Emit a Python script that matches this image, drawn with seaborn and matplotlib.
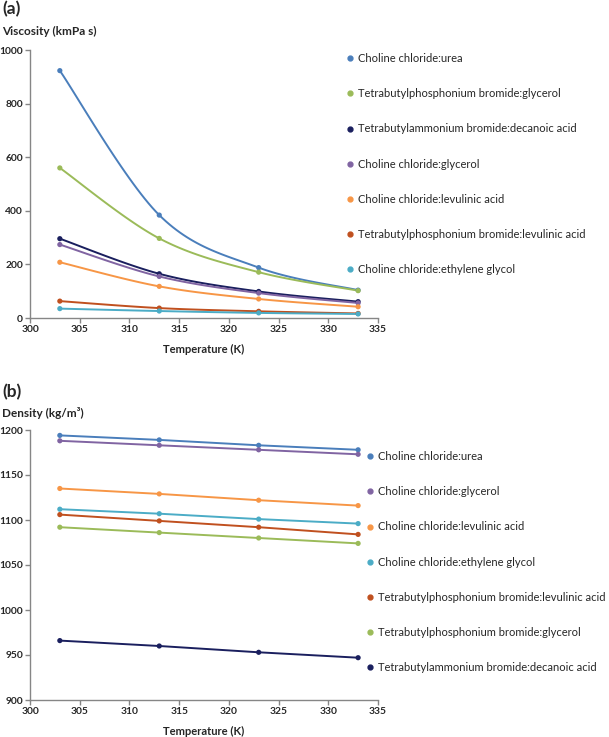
import numpy as np
import pandas as pd
import seaborn as sns
import matplotlib.pyplot as plt
from matplotlib.lines import Line2D

sns.set_style("white")
plt.rcParams["font.family"] = ["Lato", "DejaVu Sans"]

temperature = [303, 313, 323, 333]

# (a) viscosity, kmPa s
visc_chcl_urea = [923, 384, 188, 104]
visc_tbpb_glycerol = [560, 297, 171, 102]
visc_tbab_decanoic = [296, 165, 99, 61]
visc_chcl_glycerol = [274, 155, 93, 56]
visc_chcl_levulinic = [208, 118, 71, 42]
visc_tbpb_levulinic = [63, 37, 25, 17]
visc_chcl_eg = [35, 26, 19, 15]

# (b) density, kg/m3
dens_chcl_urea = [1194, 1189, 1183, 1178]
dens_chcl_glycerol = [1188, 1183, 1178, 1173]
dens_chcl_levulinic = [1135, 1129, 1122, 1116]
dens_chcl_eg = [1112, 1107, 1101, 1096]
dens_tbpb_levulinic = [1106, 1099, 1092, 1084]
dens_tbpb_glycerol = [1092, 1086, 1080, 1074]
dens_tbab_decanoic = [966, 960, 953, 947]

names = {
    "urea": "Choline chloride:urea",
    "tbpb_gly": "Tetrabutylphosphonium bromide:glycerol",
    "tbab_dec": "Tetrabutylammonium bromide:decanoic acid",
    "chcl_gly": "Choline chloride:glycerol",
    "chcl_lev": "Choline chloride:levulinic acid",
    "tbpb_lev": "Tetrabutylphosphonium bromide:levulinic acid",
    "chcl_eg": "Choline chloride:ethylene glycol",
}

colors = {
    names["urea"]: "#4a7ebb",
    names["tbpb_gly"]: "#9bbb59",
    names["tbab_dec"]: "#1a1f5e",
    names["chcl_gly"]: "#8064a2",
    names["chcl_lev"]: "#f79646",
    names["tbpb_lev"]: "#c0501f",
    names["chcl_eg"]: "#4bacc6",
}

visc_series = [
    (names["urea"], visc_chcl_urea),
    (names["tbpb_gly"], visc_tbpb_glycerol),
    (names["tbab_dec"], visc_tbab_decanoic),
    (names["chcl_gly"], visc_chcl_glycerol),
    (names["chcl_lev"], visc_chcl_levulinic),
    (names["tbpb_lev"], visc_tbpb_levulinic),
    (names["chcl_eg"], visc_chcl_eg),
]

dens_series = [
    (names["urea"], dens_chcl_urea),
    (names["chcl_gly"], dens_chcl_glycerol),
    (names["chcl_lev"], dens_chcl_levulinic),
    (names["chcl_eg"], dens_chcl_eg),
    (names["tbpb_lev"], dens_tbpb_levulinic),
    (names["tbpb_gly"], dens_tbpb_glycerol),
    (names["tbab_dec"], dens_tbab_decanoic),
]


def smooth(x, y, n=30):
    # excel style smoothed line (bezier through the points)
    p = np.column_stack([x, y]).astype(float)
    ext = np.vstack([p[0], p, p[-1]])
    t = np.linspace(0, 1, n)[:, None]
    out = []
    for i in range(len(p) - 1):
        p0, p3 = ext[i + 1], ext[i + 2]
        c1 = p0 + (ext[i + 2] - ext[i]) / 6
        c2 = p3 - (ext[i + 3] - ext[i + 1]) / 6
        seg = (1 - t) ** 3 * p0 + 3 * (1 - t) ** 2 * t * c1 + 3 * (1 - t) * t ** 2 * c2 + t ** 3 * p3
        out.append(seg if i == 0 else seg[1:])
    out = np.vstack(out)
    return out[:, 0], out[:, 1]


def frames(series, curve):
    pts, lines = [], []
    for name, vals in series:
        pts.append(pd.DataFrame({"T": temperature, "v": vals, "name": name}))
        if curve:
            sx, sy = smooth(temperature, vals)
        else:
            sx, sy = temperature, vals
        lines.append(pd.DataFrame({"T": sx, "v": sy, "name": name}))
    return pd.concat(pts), pd.concat(lines)


def style_axes(ax, ylim, yticks):
    ax.set_xlim(300, 335)
    ax.set_ylim(*ylim)
    ax.set_xticks(range(300, 336, 5))
    ax.set_yticks(yticks)
    for s in ["top", "right"]:
        ax.spines[s].set_visible(False)
    for s in ["left", "bottom"]:
        ax.spines[s].set_color("#868686")
        ax.spines[s].set_linewidth(1)
    ax.tick_params(axis="both", direction="out", length=3.5, width=1, color="#868686",
                   labelsize=7.4, pad=1.5, bottom=True, left=True)
    for lab in ax.get_xticklabels() + ax.get_yticklabels():
        lab.set_fontweight("bold")
    ax.set_xlabel("")
    ax.set_ylabel("")


def add_legend(ax, series, anchor):
    handles = [Line2D([], [], marker="o", linestyle="none", markersize=3.5,
                      color=colors[name]) for name, _ in series]
    ax.legend(handles, [name for name, _ in series], loc="upper left",
              bbox_to_anchor=anchor, bbox_transform=fig.transFigure, frameon=False,
              fontsize=8, handlelength=0.4, handletextpad=0.5, labelspacing=2.18,
              borderaxespad=0, borderpad=0)


fig = plt.figure(figsize=(6.09, 7.37), dpi=100)
ax1 = fig.add_axes([30 / 609, 1 - 318 / 737, 348 / 609, 268 / 737])
ax2 = fig.add_axes([30 / 609, 1 - 700 / 737, 348 / 609, 270 / 737])

for ax, series, curve in [(ax1, visc_series, True), (ax2, dens_series, False)]:
    pts, lines = frames(series, curve)
    sns.lineplot(data=lines, x="T", y="v", hue="name", palette=colors, sort=False,
                 estimator=None, linewidth=1.4, legend=False, ax=ax)
    sns.scatterplot(data=pts, x="T", y="v", hue="name", palette=colors, s=14,
                    linewidth=0, legend=False, ax=ax, zorder=3)

style_axes(ax1, (0, 1000), range(0, 1001, 200))
style_axes(ax2, (900, 1200), range(900, 1201, 50))

add_legend(ax1, visc_series, (348 / 609, 1 - 53 / 737))
add_legend(ax2, dens_series, (368 / 609, 1 - 451 / 737))

fig.text(2 / 609, 1 - 9 / 737, "(a)", fontsize=12.5, fontweight="bold", va="center")
fig.text(2 / 609, 1 - 31 / 737, "Viscosity (kmPa s)", fontsize=8.5, fontweight="bold", va="center")
fig.text(204 / 609, 1 - 349 / 737, "Temperature (K)", fontsize=8, fontweight="bold", ha="center", va="center")

fig.text(2 / 609, 1 - 392 / 737, "(b)", fontsize=12.5, fontweight="bold", va="center")
fig.text(2 / 609, 1 - 413 / 737, "Density (kg/m³)", fontsize=8.5, fontweight="bold", va="center")
fig.text(204 / 609, 1 - 731 / 737, "Temperature (K)", fontsize=8, fontweight="bold", ha="center", va="center")

fig.savefig("out.png", dpi=100)
